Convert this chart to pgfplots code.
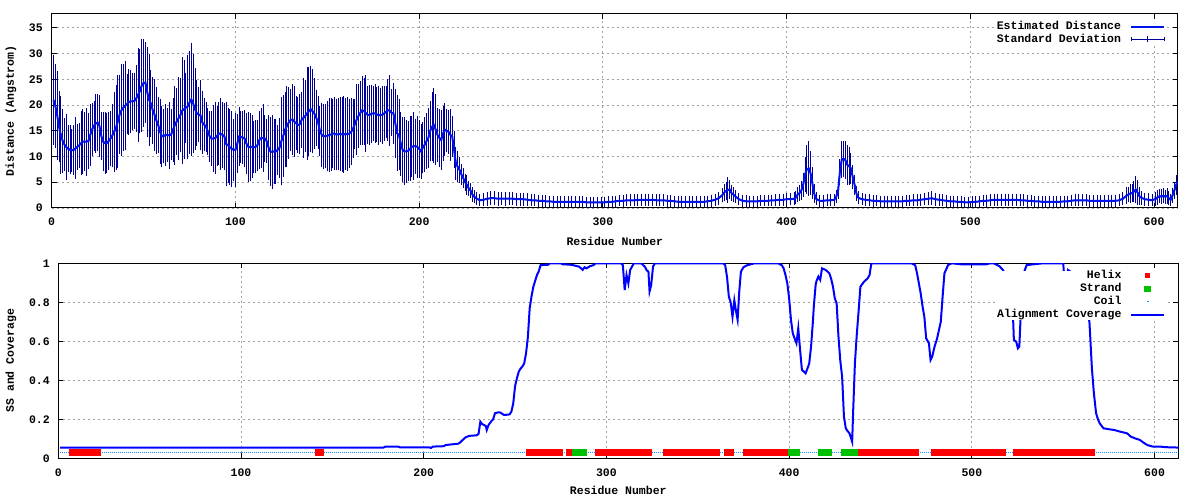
\documentclass[border=0pt]{standalone}
\usepackage{fontspec}
\setmainfont{Liberation Mono}
\usepackage{pgfplots}
\usepackage{pgfplotstable}
\pgfplotsset{compat=1.18}
\newcommand\myfont{\fontsize{11.5pt}{13pt}\selectfont\bfseries}
\definecolor{meanblue}{RGB}{0,20,235}
\definecolor{barblue}{RGB}{0,0,150}
\definecolor{ssred}{RGB}{255,0,0}
\definecolor{ssgreen}{RGB}{0,192,0}
\definecolor{coilblue}{RGB}{20,140,255}
\definecolor{gridgray}{RGB}{160,160,160}

\pgfplotstableread{
x y e
1 21.0 8.4
2 19.8 7.7
3 18.0 8.2
4 15.8 6.5
5 14.2 7.2
6 13.0 5.8
7 12.3 4.8
8 11.8 6.0
9 11.5 4.2
10 11.3 4.4
11 11.2 3.8
12 11.3 4.5
13 11.6 5.6
14 11.9 4.1
15 12.2 4.0
16 12.6 5.8
17 12.9 6.0
18 12.9 5.3
19 12.9 6.2
20 13.0 5.0
21 14.2 5.7
22 15.3 4.8
23 16.0 4.5
24 16.4 5.3
25 16.6 5.2
26 15.9 5.6
27 14.0 4.2
28 12.9 5.4
29 12.6 5.6
30 12.6 5.5
31 13.0 5.2
32 13.5 4.9
33 14.1 5.8
34 14.8 7.4
35 15.6 7.9
36 16.8 8.6
37 18.2 7.3
38 19.0 8.6
39 19.5 8.1
40 19.9 8.3
41 20.2 5.5
42 20.6 6.0
43 20.7 5.8
44 20.7 5.2
45 20.8 5.0
46 21.3 6.1
47 22.0 8.7
48 22.7 7.8
49 23.8 8.6
50 24.3 8.1
51 24.4 7.4
52 22.5 8.4
53 21.0 8.5
54 20.3 6.2
55 19.0 6.1
56 18.1 6.6
57 17.0 6.2
58 16.1 5.1
59 14.8 5.9
60 13.9 5.6
61 14.0 4.9
62 14.2 5.6
63 14.2 4.8
64 14.1 6.1
65 14.3 4.5
66 15.2 5.8
67 16.1 7.3
68 16.8 6.1
69 17.4 7.6
70 18.0 6.8
71 18.9 10.0
72 19.2 9.2
73 19.5 6.4
74 19.7 9.7
75 20.5 9.6
76 21.1 10.6
77 20.3 9.3
78 19.2 7.6
79 18.4 6.0
80 18.2 4.9
81 18.0 6.4
82 16.6 5.8
83 16.2 4.8
84 15.8 4.5
85 14.8 4.2
86 13.9 4.5
87 13.5 5.0
88 13.5 6.2
89 13.6 6.7
90 14.0 5.4
91 14.5 5.8
92 14.4 6.6
93 14.2 6.0
94 13.9 6.2
95 12.4 7.8
96 12.2 6.9
97 11.8 7.0
98 11.5 7.0
99 11.3 5.7
100 11.3 6.8
101 12.5 5.3
102 13.9 5.3
103 13.8 4.6
104 13.7 4.8
105 13.5 5.2
106 12.5 5.5
107 11.9 6.4
108 11.8 6.2
109 11.9 5.7
110 11.8 4.7
111 11.9 4.8
112 12.2 4.6
113 13.2 5.3
114 13.6 5.5
115 13.6 6.3
116 13.5 4.1
117 13.0 3.9
118 11.8 5.9
119 11.0 6.3
120 10.9 6.8
121 11.0 5.9
122 11.0 5.9
123 11.3 4.5
124 11.7 5.4
125 13.0 8.2
126 14.0 7.5
127 15.2 6.9
128 15.9 7.5
129 16.6 6.6
130 17.1 5.6
131 17.2 6.5
132 16.8 6.5
133 16.5 4.8
134 16.1 5.0
135 16.3 5.5
136 17.1 5.1
137 17.5 7.4
138 17.9 6.6
139 18.4 8.7
140 18.8 8.3
141 19.2 8.0
142 18.8 7.8
143 18.3 6.5
144 17.5 5.1
145 16.6 4.8
146 15.0 4.5
147 14.2 5.9
148 13.9 6.0
149 14.0 5.9
150 14.0 6.5
151 14.2 6.8
152 14.3 6.7
153 14.5 6.3
154 14.4 6.7
155 14.3 6.5
156 14.3 6.6
157 14.4 6.8
158 14.3 6.9
159 14.3 7.1
160 14.4 6.6
161 14.3 6.8
162 14.5 6.3
163 14.8 6.1
164 15.4 5.3
165 16.3 4.5
166 17.2 6.6
167 17.9 5.8
168 18.5 5.8
169 19.0 6.3
170 18.8 6.1
171 18.4 7.1
172 18.1 5.2
173 18.1 5.4
174 18.3 5.2
175 18.4 5.0
176 18.4 5.4
177 18.2 5.0
178 18.0 5.3
179 18.1 4.9
180 18.1 5.3
181 18.4 5.0
182 18.7 4.7
183 19.0 5.6
184 18.9 6.5
185 18.5 4.2
186 18.4 5.5
187 16.5 6.3
188 14.5 7.0
189 14.2 6.5
190 12.5 5.8
191 11.3 5.9
192 11.0 6.2
193 11.0 5.7
194 11.1 5.4
195 11.5 5.9
196 11.9 5.5
197 12.0 6.2
198 12.0 5.0
199 11.9 5.6
200 11.5 5.2
201 11.0 4.9
202 11.7 4.6
203 12.3 4.9
204 13.0 5.1
205 13.6 5.4
206 15.0 5.5
207 15.8 6.3
208 16.1 6.9
209 15.2 6.5
210 14.2 4.8
211 13.6 5.3
212 13.2 5.5
213 14.5 4.9
214 15.2 4.8
215 15.0 3.8
216 14.8 3.9
217 14.2 4.6
218 13.9 3.6
219 11.3 3.2
220 8.7 2.8
221 8.0 2.6
222 7.4 2.1
223 6.5 1.6
224 5.8 1.5
225 5.0 1.3
226 4.5 1.5
227 3.8 1.1
228 3.4 1.0
229 2.6 1.0
230 2.2 0.9
231 1.9 0.9
233 1.5 0.8
235 1.6 0.9
237 1.8 1.0
239 1.9 1.0
241 1.9 1.0
243 1.8 1.0
245 1.8 0.9
247 1.8 1.0
249 1.8 0.9
251 1.8 0.9
253 1.7 0.9
255 1.7 0.9
257 1.7 0.9
259 1.6 0.9
261 1.5 0.8
263 1.5 0.8
265 1.4 0.8
267 1.4 0.8
269 1.3 0.8
271 1.3 0.7
273 1.2 0.7
275 1.2 0.7
277 1.2 0.7
279 1.2 0.7
281 1.2 0.7
283 1.2 0.7
285 1.2 0.7
287 1.2 0.7
289 1.2 0.7
291 1.1 0.7
293 1.1 0.7
295 1.1 0.7
297 1.1 0.6
299 1.1 0.6
301 1.1 0.7
303 1.2 0.7
305 1.2 0.7
307 1.3 0.7
309 1.4 0.7
311 1.4 0.8
313 1.5 0.8
315 1.5 0.8
317 1.5 0.8
319 1.6 0.8
321 1.6 0.8
323 1.6 0.8
325 1.6 0.8
327 1.6 0.8
329 1.5 0.8
331 1.5 0.8
333 1.5 0.8
335 1.4 0.8
337 1.4 0.8
339 1.3 0.7
341 1.2 0.7
343 1.2 0.7
345 1.2 0.7
347 1.2 0.7
349 1.2 0.7
351 1.2 0.7
353 1.2 0.7
355 1.2 0.7
357 1.3 0.7
359 1.4 0.8
361 1.6 0.8
363 1.9 0.9
365 2.5 1.0
366 3.0 1.3
367 3.3 1.4
368 3.5 2.1
369 3.6 1.5
370 2.9 1.2
371 2.6 1.0
372 2.3 0.9
374 1.7 0.8
376 1.4 0.8
378 1.3 0.8
380 1.3 0.7
382 1.3 0.7
384 1.3 0.7
386 1.4 0.7
388 1.4 0.7
390 1.4 0.7
392 1.5 0.7
394 1.5 0.8
396 1.6 0.8
398 1.6 0.8
400 1.7 0.8
402 1.7 0.8
404 1.8 0.9
405 2.0 0.9
406 2.6 1.0
407 2.9 1.2
408 3.4 1.5
409 4.5 2.0
410 6.5 3.0
411 7.5 4.4
412 7.7 4.9
413 6.8 3.9
414 4.8 2.7
415 2.8 1.4
416 1.8 0.9
418 1.4 0.8
420 1.4 0.8
422 1.5 0.8
424 1.5 0.8
426 1.6 0.8
427 2.2 0.9
428 3.3 1.2
429 7.0 2.2
430 9.4 3.2
431 9.6 3.1
432 9.3 3.3
433 8.4 3.5
434 8.1 3.3
435 7.7 2.6
436 6.0 2.0
437 4.5 1.5
438 2.8 1.0
439 2.0 0.9
441 1.7 0.8
443 1.6 0.8
445 1.5 0.8
447 1.4 0.8
449 1.4 0.7
451 1.3 0.7
453 1.3 0.7
455 1.3 0.7
457 1.3 0.7
459 1.3 0.7
461 1.3 0.7
463 1.3 0.7
465 1.4 0.7
467 1.4 0.7
469 1.5 0.8
471 1.5 0.8
473 1.6 0.8
475 1.7 0.8
477 1.8 0.9
479 1.9 1.0
481 1.7 0.9
483 1.6 0.8
485 1.5 0.8
487 1.4 0.8
489 1.3 0.7
491 1.3 0.7
493 1.2 0.7
495 1.2 0.7
497 1.1 0.7
499 1.1 0.7
501 1.2 0.7
503 1.2 0.7
505 1.3 0.7
507 1.4 0.7
509 1.4 0.8
511 1.5 0.8
513 1.6 0.8
515 1.6 0.8
517 1.6 0.8
519 1.6 0.8
521 1.6 0.8
523 1.6 0.8
525 1.6 0.8
527 1.5 0.8
529 1.5 0.8
531 1.4 0.8
533 1.4 0.7
535 1.3 0.7
537 1.3 0.7
539 1.2 0.7
541 1.2 0.7
543 1.2 0.7
545 1.2 0.7
547 1.2 0.7
549 1.2 0.7
551 1.3 0.7
553 1.3 0.7
555 1.4 0.7
557 1.5 0.8
559 1.5 0.8
561 1.5 0.8
563 1.5 0.8
565 1.4 0.8
567 1.4 0.8
569 1.4 0.8
571 1.4 0.8
573 1.4 0.8
575 1.4 0.8
577 1.4 0.8
579 1.4 0.8
581 1.5 0.8
583 1.8 0.9
585 2.4 1.2
586 2.6 1.1
587 2.8 1.5
588 2.9 1.3
589 3.2 1.7
590 3.6 2.3
591 3.0 2.0
592 2.3 1.4
593 2.0 1.0
595 1.7 0.9
597 1.6 0.9
599 1.5 0.8
601 1.8 1.0
602 2.1 1.1
603 2.3 1.0
604 2.2 1.1
605 2.4 1.1
606 2.2 1.0
607 2.3 1.1
608 1.9 1.0
609 1.6 0.8
610 2.4 1.1
611 3.4 1.3
612 4.5 1.5
613 5.1 1.0
}\distdata

\pgfplotsset{
  chartstyle/.style={
    scale only axis,
    anchor=south west,
    xmin=0, xmax=613,
    xtick={0,100,200,300,400,500,600},
    tick align=inside,
    major tick length=5pt,
    axis line style={line width=1pt, black},
    every tick/.style={line width=1pt, black},
    grid=major,
    grid style={dash pattern=on 2pt off 3pt, gridgray, line width=0.8pt},
    /pgf/number format/assume math mode=true,
    tick label style={font=\myfont, inner sep=0pt},
    xticklabel style={yshift=-10pt},
    label style={font=\myfont},
    legend plot pos=right,
    legend cell align=right,
    clip=true,
  }
}

\begin{document}
\begin{tikzpicture}
\useasboundingbox (0,0) rectangle (1200pt,500pt);

% ---------------- top chart ----------------
\begin{axis}[chartstyle,
  at={(51.7pt,292pt)},
  width=1126.3pt, height=194pt,
  ymin=0, ymax=37.7,
  ytick={0,5,10,15,20,25,30,35},
  yticklabel style={xshift=-8.7pt},
  xlabel={Residue Number},
  ylabel={Distance (Angstrom)},
  xlabel style={at={(axis description cs:0.5,-0.170)}, anchor=center},
  ylabel style={at={(axis description cs:-0.0361,0.5)}, anchor=center, rotate=0},
  legend style={at={(rel axis cs:0.9885,0.962)}, anchor=north east,
    draw=none, fill=white, inner sep=0pt, outer sep=0pt, font=\myfont,
    row sep=2.2pt, column sep=9pt,
    nodes={inner sep=0pt, text height=8pt, text depth=2.5pt}},
]
\addplot[barblue, line width=0.9pt, mark=none, forget plot,
  error bars/.cd, y dir=both, y explicit,
  error bar style={line width=0.9pt, barblue, solid},
  error mark options={line width=0.9pt, mark size=2pt, barblue, solid}]
  table[x=x, y=y, y error=e] {\distdata};
\addplot[meanblue, line width=2pt, mark=none,
  legend image code/.code={\draw[meanblue, line width=2pt] (0pt,0pt) -- (33pt,0pt);}]
  table[x=x, y=y] {\distdata};
\addlegendentry{Estimated Distance}
\addlegendimage{legend image code/.code={
  \draw[barblue, line width=0.9pt] (0pt,0pt) -- (33pt,0pt);
  \draw[barblue, line width=0.9pt] (0pt,-2pt) -- (0pt,2pt);
  \draw[barblue, line width=0.9pt] (33pt,-2pt) -- (33pt,2pt);
  \draw[barblue, line width=0.9pt] (16.5pt,-3pt) -- (16.5pt,3pt);}}
\addlegendentry{Standard Deviation}
\end{axis}

% ---------------- bottom chart ----------------
\begin{axis}[chartstyle,
  at={(58.3pt,41.7pt)},
  width=1120pt, height=195pt,
  ymin=0, ymax=1,
  ytick={0,0.2,0.4,0.6,0.8,1},
  yticklabels={0,0.2,0.4,0.6,0.8,1},
  yticklabel style={xshift=-8.3pt},
  xlabel={Residue Number},
  ylabel={SS and Coverage},
  xlabel style={at={(axis description cs:0.5,-0.1626)}, anchor=center},
  ylabel style={at={(axis description cs:-0.0422,0.5)}, anchor=center, rotate=0},
  unbounded coords=jump,
  legend style={at={(rel axis cs:0.9885,0.962)}, anchor=north east,
    draw=none, fill=white, inner sep=0pt, outer sep=0pt, font=\myfont,
    row sep=2.4pt, column sep=9pt,
    nodes={inner sep=0pt, text height=8pt, text depth=2.5pt}},
]
% coil
\addplot[coilblue, line width=1pt, dash pattern=on 1pt off 1pt, forget plot]
  coordinates {(1,0.03) (613,0.03)};
% helix
\addplot[ssred, line width=6.3pt, forget plot] coordinates {
 (5.9,0.03) (23.2,0.03) (24,nan)
 (140.5,0.03) (145.5,0.03) (146,nan)
 (256,0.03) (276,0.03) (276.5,nan)
 (277.8,0.03) (280.9,0.03) (281,nan)
 (293.6,0.03) (324.9,0.03) (325,nan)
 (330.9,0.03) (362.4,0.03) (363,nan)
 (364.5,0.03) (370,0.03) (371,nan)
 (374.5,0.03) (399.5,0.03) (400,nan)
 (437.7,0.03) (470.9,0.03) (471,nan)
 (477.7,0.03) (518.5,0.03) (519,nan)
 (522.5,0.03) (567.2,0.03)
};
% strand
\addplot[ssgreen, line width=6.6pt, forget plot] coordinates {
 (280.9,0.03) (289.6,0.03) (290,nan)
 (399.5,0.03) (406.2,0.03) (407,nan)
 (415.8,0.03) (423.3,0.03) (424,nan)
 (428.6,0.03) (437.7,0.03)
};
% alignment coverage
\addplot[blue, line width=2pt, forget plot] coordinates {
(1,0.055) (178,0.055) (179,0.06) (186,0.06) (187,0.056) (203,0.056) (204,0.053) (205,0.06) (211,0.062) (212,0.068) (216,0.072) (219,0.075) (220,0.082) (222,0.1) (223,0.108) (225,0.115) (229,0.118) (230,0.125) (231,0.188) (232,0.175) (233,0.171) (234,0.165) (234.5,0.145) (235.5,0.171) (237,0.19) (238,0.2) (239,0.231) (241,0.236) (242,0.234) (244,0.222) (247,0.225) (248,0.24) (249,0.282) (250,0.37) (251,0.41) (252,0.444) (253,0.46) (254,0.47) (255,0.487) (256,0.538) (257,0.62) (258,0.77) (259,0.83) (260,0.88) (261,0.91) (262,0.94) (263,0.96) (264,0.991) (268,0.992) (269,1.0) (275,1.0) (276,0.995) (280,0.993) (282,0.99) (285,0.983) (286,0.975) (287,0.966) (288,0.98) (289,0.974) (291,0.985) (293,0.991) (294,1.0) (308,1.0) (309,0.99) (310,0.863) (311,0.94) (312,0.897) (313,0.966) (315,1.0) (319,1.0) (321,0.983) (322,0.965) (323,0.957) (323.6,0.855) (324.5,0.889) (325.5,0.983) (326.5,1.0) (364,1.0) (365,0.99) (366,0.93) (367,0.829) (368,0.8) (369,0.726) (370,0.81) (371,0.75) (371.8,0.71) (372.7,0.855) (373.6,0.957) (375,0.98) (377,0.99) (381,1.0) (394,1.0) (396,0.99) (397,0.974) (398,0.94) (399,0.897) (400,0.82) (401,0.71) (402,0.64) (403,0.615) (404,0.59) (405,0.667) (406,0.556) (407,0.453) (408,0.445) (409,0.436) (410,0.46) (411,0.487) (412,0.573) (413,0.7) (413.5,0.778) (414.5,0.889) (415,0.91) (416,0.932) (417,0.915) (418,0.974) (419,0.97) (420,0.966) (422,0.949) (423,0.92) (424,0.88) (425,0.82) (426,0.795) (427,0.624) (428,0.5) (429,0.419) (430,0.214) (431,0.154) (432,0.14) (433,0.128) (434,0.1) (434.5,0.085) (435,0.231) (436,0.487) (437,0.632) (438,0.752) (439,0.88) (441,0.906) (443,0.923) (444,0.94) (445,1.0) (467,1.0) (469,0.99) (470,0.949) (472,0.846) (473,0.78) (474,0.726) (475,0.615) (476.5,0.59) (477.4,0.504) (478.3,0.521) (479.6,0.573) (481,0.615) (482,0.658) (483,0.7) (484,0.829) (485,0.949) (487,0.991) (489,1.0) (494,0.995) (508,0.995) (510,1.0) (512,1.0) (515,0.986) (517,0.966) (519,0.923) (520,0.915) (521,0.829) (522,0.863) (523,0.607) (524.3,0.598) (525.2,0.564) (526,0.573) (527,0.795) (528,0.94) (530,0.991) (539,1.0) (550,1.0) (550.7,0.915) (551.6,0.863) (552.6,0.966) (554,0.957) (557,0.94) (559,0.91) (561,0.88) (563,0.812) (564.4,0.692) (565.7,0.462) (566.8,0.333) (568,0.231) (569,0.2) (570,0.179) (572,0.154) (575,0.149) (578,0.145) (581,0.137) (585,0.128) (587,0.111) (590,0.1) (592,0.094) (594,0.08) (596,0.068) (599,0.06) (603,0.06) (606,0.057) (613,0.055)
};
\addlegendimage{legend image code/.code={\path[draw=none,fill=none] (0pt,0pt) -- (33pt,0pt); \fill[ssred, draw=none] (14pt,-2.5pt) rectangle (19pt,2.5pt);}}
\addlegendentry{Helix}
\addlegendimage{legend image code/.code={\path[draw=none,fill=none] (0pt,0pt) -- (33pt,0pt); \fill[ssgreen, draw=none] (13pt,-3.2pt) rectangle (20pt,3.2pt);}}
\addlegendentry{Strand}
\addlegendimage{legend image code/.code={\path[draw=none,fill=none] (0pt,0pt) -- (33pt,0pt); \fill[coilblue, draw=none] (16pt,-0.6pt) rectangle (17.2pt,0.6pt);}}
\addlegendentry{Coil}
\addlegendimage{legend image code/.code={\draw[blue, line width=2pt] (0pt,0pt) -- (33pt,0pt);}}
\addlegendentry{Alignment Coverage}
\end{axis}
\end{tikzpicture}
\end{document}
